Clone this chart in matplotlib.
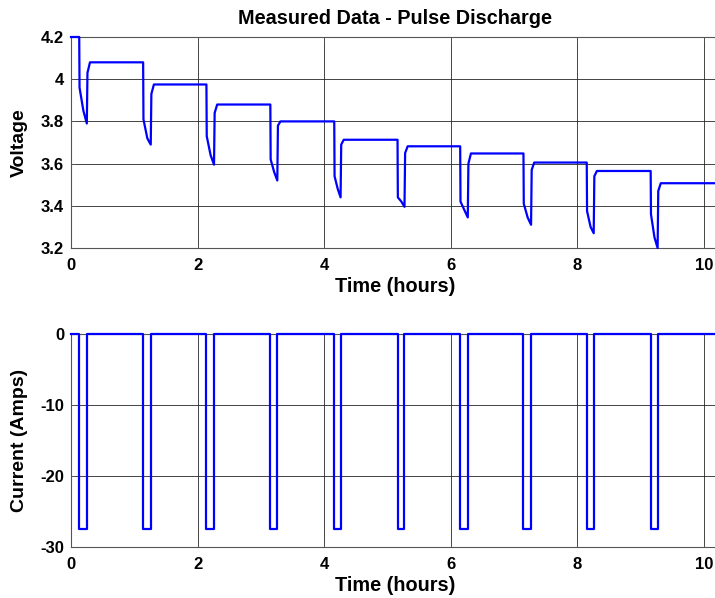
"""Pulse discharge test: measured cell voltage and current vs time."""

import matplotlib
matplotlib.use("Agg")
import matplotlib.pyplot as plt

# pulse timing (hours)
t_on = [0.13, 1.14, 2.14, 3.15, 4.16, 5.16, 6.15, 7.15, 8.15, 9.16]
t_off = [0.25, 1.26, 2.26, 3.26, 4.26, 5.27, 6.27, 7.27, 8.26, 9.27]
t_end = 10.24

# voltage readings for each pulse (V)
v_initial = 4.2
v_start = [3.96, 3.81, 3.73, 3.62, 3.54, 3.44, 3.42, 3.41, 3.375, 3.36]
v_mid = [3.85, 3.72, 3.64, 3.56, 3.48, 3.42, 3.38, 3.345, 3.30, 3.25]
v_min = [3.79, 3.69, 3.595, 3.52, 3.44, 3.395, 3.345, 3.31, 3.27, 3.20]
v_recover = [4.03, 3.93, 3.84, 3.78, 3.69, 3.65, 3.60, 3.57, 3.54, 3.47]
v_rest = [4.08, 3.975, 3.88, 3.80, 3.713, 3.682, 3.648, 3.605, 3.565, 3.507]

# current (A)
i_rest = 0.0
i_pulse = -27.5

x_ticks = [0, 2, 4, 6, 8, 10]
v_ticks = [3.2, 3.4, 3.6, 3.8, 4.0, 4.2]
v_ticklabels = ["3.2", "3.4", "3.6", "3.8", "4", "4.2"]
i_ticks = [-30, -20, -10, 0]


def build_voltage():
    t, v = [0.0], [v_initial]
    for k in range(len(t_on)):
        width = t_off[k] - t_on[k]
        t += [t_on[k], t_on[k] + 0.005, t_on[k] + 0.55 * width, t_off[k],
              t_off[k] + 0.01, t_off[k] + 0.05]
        v += [v[-1], v_start[k], v_mid[k], v_min[k], v_recover[k], v_rest[k]]
    t.append(t_end)
    v.append(v[-1])
    return t, v


def build_current():
    t, c = [0.0], [i_rest]
    for a, b in zip(t_on, t_off):
        t += [a, a, b, b]
        c += [i_rest, i_pulse, i_pulse, i_rest]
    t.append(t_end)
    c.append(i_rest)
    return t, c


plt.rcParams["font.family"] = ["Liberation Sans", "DejaVu Sans"]
plt.rcParams["font.weight"] = "bold"
plt.rcParams["axes.unicode_minus"] = False

fig = plt.figure(figsize=(7.15, 5.98), dpi=100)
W, H = 715, 598
left, right = 71 / W, 719 / W
ax1 = fig.add_axes([left, 1 - 248 / H, right - left, 211 / H])
ax2 = fig.add_axes([left, 1 - 547 / H, right - left, 213 / H])

blue = "#0000ff"
tv, vv = build_voltage()
ax1.plot(tv, vv, color=blue, lw=1.6, clip_on=False, zorder=3)
tc, cc = build_current()
ax2.plot(tc, cc, color=blue, lw=1.6, clip_on=False, zorder=3)

ax1.set_ylim(3.2, 4.2)
ax1.set_yticks(v_ticks)
ax1.set_yticklabels(v_ticklabels)
ax1.set_ylabel("Voltage", fontsize=14, fontweight="bold")
ax1.set_title("Measured Data - Pulse Discharge", fontsize=14.3,
              fontweight="bold", pad=9)

ax2.set_ylim(-30, 0)
ax2.set_yticks(i_ticks)
ax2.set_ylabel("Current (Amps)", fontsize=14, fontweight="bold")

for ax in (ax1, ax2):
    ax.set_xlim(0, t_end)
    ax.set_xticks(x_ticks)
    ax.set_xlabel("Time (hours)", fontsize=14.3, fontweight="bold", labelpad=3)
    ax.yaxis.set_label_coords(-0.066, 0.5)
    ax.grid(True, color="#222222", lw=0.7, alpha=0.85)
    ax.set_axisbelow(True)
    ax.tick_params(direction="in", length=3, top=True, right=True,
                   labelsize=12, width=0.6, color="#555555")
    ax.tick_params(axis="x", pad=7)
    ax.tick_params(axis="y", pad=5)
    for s in ax.spines.values():
        s.set_color("#555555")
        s.set_linewidth(0.8)
    for lab in ax.get_xticklabels() + ax.get_yticklabels():
        lab.set_fontweight("bold")

fig.savefig("out.png", dpi=100)
